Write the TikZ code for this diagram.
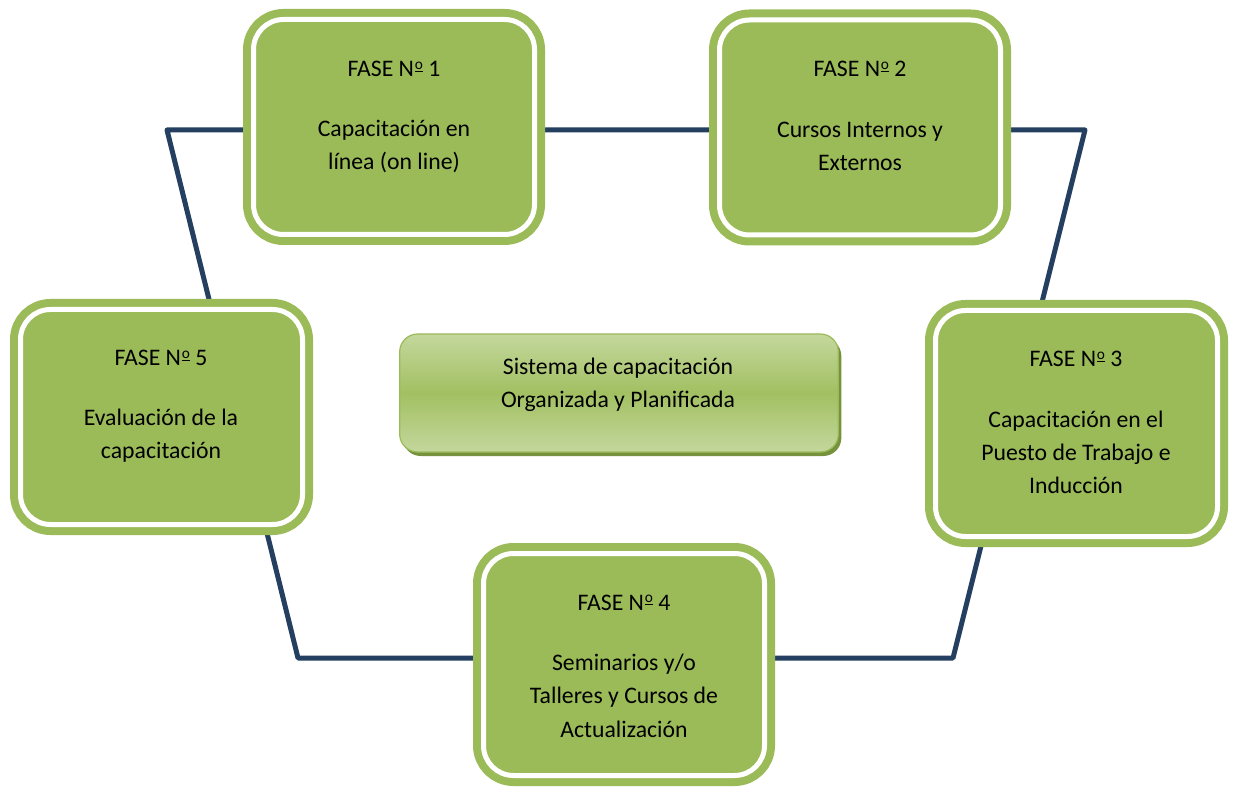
\documentclass[tikz,border=0pt]{standalone}
\usepackage{fontspec}
\setmainfont{Carlito}
\definecolor{phasegreen}{HTML}{9BBB59}
\definecolor{loopblue}{HTML}{243F60}
\definecolor{hubtop}{HTML}{C4D79D}
\definecolor{hubmid}{HTML}{A2C062}
\definecolor{hubshadow}{HTML}{76923C}
% number sign written as N with a raised, underlined o
\newcommand\numsign{N\kern0.6pt\raisebox{0.3em}{\underline{\smash{\fontsize{11.5}{12}\selectfont o}}}}
\begin{document}
\begin{tikzpicture}[x=0.75pt,y=-0.75pt,
  phase/.style={draw=phasegreen, fill=phasegreen, line width=6pt,
    double=white, double distance=3.75pt, rounded corners=22.5pt,
    inner sep=0pt, minimum width=210.75pt},
  hub/.style={draw=phasegreen, line width=0.9pt, rounded corners=13.5pt,
    top color=hubtop, bottom color=hubtop, middle color=hubmid,
    inner sep=0pt, minimum width=329pt, minimum height=88.5pt},
  hubshade/.style={fill=hubshadow, rounded corners=13.5pt, inner sep=0pt,
    minimum width=329pt, minimum height=88.5pt},
  txt/.style={anchor=base, inner sep=0pt, text=black,
    font=\fontsize{17.8}{24}\selectfont}]
\useasboundingbox (0,0) rectangle (1234,787);

% closed loop running behind the phase boxes
\coordinate (c1) at (167,130);
\coordinate (c2) at (1085,130);
\coordinate (c3) at (953,658);
\coordinate (c4) at (298,658);
\draw[loopblue, line width=3.75pt, line join=round] (c1) -- (c2) -- (c3) -- (c4) -- cycle;

% phase boxes
\node[phase, minimum height=161.25pt] (p1) at (394,127) {};
\node[phase, minimum height=161.25pt] (p2) at (860,127.5) {};
\node[phase, minimum width=211.5pt, minimum height=169.5pt] (p3) at (1076.5,423.5) {};
\node[phase, minimum height=166.5pt] (p4) at (624,664.5) {};
\node[phase, minimum width=211.5pt, minimum height=161.25pt] (p5) at (161.5,417) {};

% central box with its shadow
\node[hubshade] (hs) at (622,397) {};
\node[hub] (hub) at (619,393) {};

% labels
\node[txt] (p1a) at (394,77) {FASE \numsign{} 1};
\node[txt] (p1b) at (394,137) {Capacitación en};
\node[txt] (p1c) at (394,170) {línea (on line)};

\node[txt] (p2a) at (860,77) {FASE \numsign{} 2};
\node[txt] (p2b) at (860,138) {Cursos Internos y};
\node[txt] (p2c) at (860,171) {Externos};

\node[txt] (p3a) at (1076,367) {FASE \numsign{} 3};
\node[txt] (p3b) at (1076,427) {Capacitación en el};
\node[txt] (p3c) at (1076,460) {Puesto de Trabajo e};
\node[txt] (p3d) at (1076,493) {Inducción};

\node[txt] (p4a) at (624,610) {FASE \numsign{} 4};
\node[txt] (p4b) at (624,670) {Seminarios y/o};
\node[txt] (p4c) at (624,703) {Talleres y Cursos de};
\node[txt] (p4d) at (624,737) {Actualización};

\node[txt] (p5a) at (161,366) {FASE \numsign{} 5};
\node[txt] (p5b) at (161,426) {Evaluación de la};
\node[txt] (p5c) at (161,459) {capacitación};

\node[txt] (hba) at (618,375) {Sistema de capacitación};
\node[txt] (hbb) at (618,408) {Organizada y Planificada};
\end{tikzpicture}
\end{document}
